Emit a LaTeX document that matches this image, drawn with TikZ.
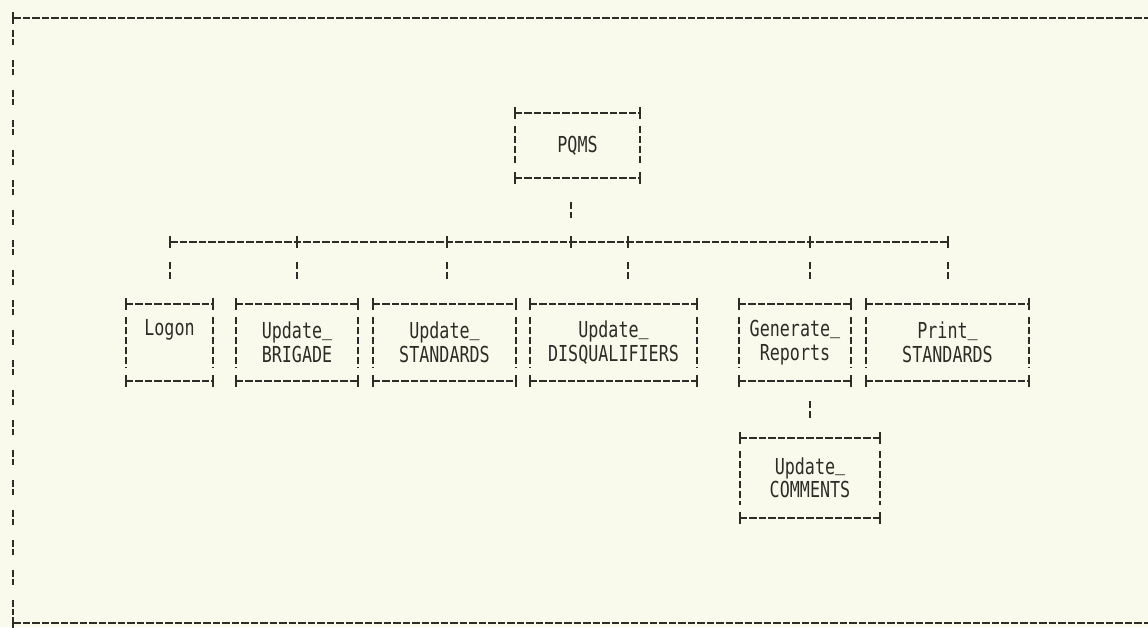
\documentclass[tikz,border=0pt]{standalone}
\usepackage{fontspec}
\newfontfamily\plotfont[FakeStretch=0.76]{DejaVu Sans Mono}
\newcommand\ulbar{\raisebox{0.16em}{\_}}
\definecolor{paper}{RGB}{250,250,236}
\definecolor{ink}{RGB}{45,45,40}
\begin{document}
\begin{tikzpicture}[x=1pt,y=-1pt,
  hline/.style={draw=ink,line width=2.2pt,dash pattern=on 7.5pt off 2pt},
  vline/.style={draw=ink,line width=2.2pt,dash pattern=on 7pt off 3pt},
  fvline/.style={draw=ink,line width=2pt,dash pattern=on 6.5pt off 2pt on 6.5pt off 15pt},
  tick/.style={draw=ink,line width=2.2pt},
  box/.style={rectangle,inner sep=0pt,font=\plotfont\fontsize{22}{23.5}\selectfont,text=ink,align=center},
  rowbox/.style={box,minimum height=77pt}
]
\fill[paper] (0,0) rectangle (1148,627);
\useasboundingbox (0,0) rectangle (1148,627);

% outer frame
\coordinate (ftl) at (13,18);
\coordinate (fbl) at (13,623);
\coordinate (ftr) at (1148,18);
\coordinate (fbr) at (1148,623);
\draw[hline] (ftl) -- (ftr);
\draw[hline] (fbl) -- (fbr);
\draw[fvline] ([yshift=-12pt]ftl) -- ([yshift=8pt]fbl);
\draw[tick] ([yshift=6pt]ftl) -- ([yshift=-6pt]ftl);
\draw[tick] ([yshift=6pt]fbl) -- ([yshift=-6pt]fbl);

% boxes
\node[box,minimum width=125pt,minimum height=65pt] (pqms) at (577.5,145.5) {PQMS};
\node[rowbox,minimum width=87pt]  (logon) at (169.5,342.5) {Logon\\\strut};
\node[rowbox,minimum width=122pt] (brig)  at (297,342.5)   {Update\ulbar\\BRIGADE};
\node[rowbox,minimum width=143pt] (stan)  at (444.5,342.5) {Update\ulbar\\STANDARDS};
\node[rowbox,minimum width=167pt] (disq)  at (613.5,342.5) {Update\ulbar\\DISQUALIFIERS};
\node[rowbox,minimum width=112pt] (gen)   at (795,342.5)   {Generate\ulbar\\Reports};
\node[rowbox,minimum width=163pt] (prnt)  at (947.5,342.5) {Print\ulbar\\STANDARDS};
\node[box,minimum width=140pt,minimum height=80pt] (comm) at (810,478) {Update\ulbar\\COMMENTS};

\foreach \n in {pqms,logon,brig,stan,disq,gen,prnt,comm}{
  \draw[hline] (\n.north west) -- (\n.north east);
  \draw[hline] (\n.south west) -- (\n.south east);
  \draw[vline,shorten <=13pt,shorten >=13pt] (\n.north west) -- (\n.south west);
  \draw[vline,shorten <=13pt,shorten >=13pt] (\n.north east) -- (\n.south east);
  \foreach \c in {north west,north east,south west,south east}
    \draw[tick] ([yshift=6pt]\n.\c) -- ([yshift=-6pt]\n.\c);
}

% bus junctions
\coordinate (jl) at (170,242);
\coordinate (jb) at (297,242);
\coordinate (js) at (447,242);
\coordinate (jp) at (571,242);
\coordinate (jd) at (628,242);
\coordinate (jg) at (810,242);
\coordinate (jr) at (948,242);
\draw[hline] (jl) -- (jr);
\foreach \j in {jl,jb,js,jp,jd,jg,jr}
  \draw[tick] ([yshift=6pt]\j) -- ([yshift=-6pt]\j);

% connectors
\draw[vline,shorten <=24pt,shorten >=24pt] (pqms.south -| jp) -- (jp);
\foreach \j/\n in {jl/logon,jb/brig,js/stan,jd/disq,jg/gen,jr/prnt}
  \draw[vline,shorten <=20pt,shorten >=22pt] (\j) -- (\j |- \n.north);
\draw[vline,shorten <=20pt,shorten >=20pt] (gen.south -| comm.north) -- (comm.north);
\end{tikzpicture}
\end{document}
